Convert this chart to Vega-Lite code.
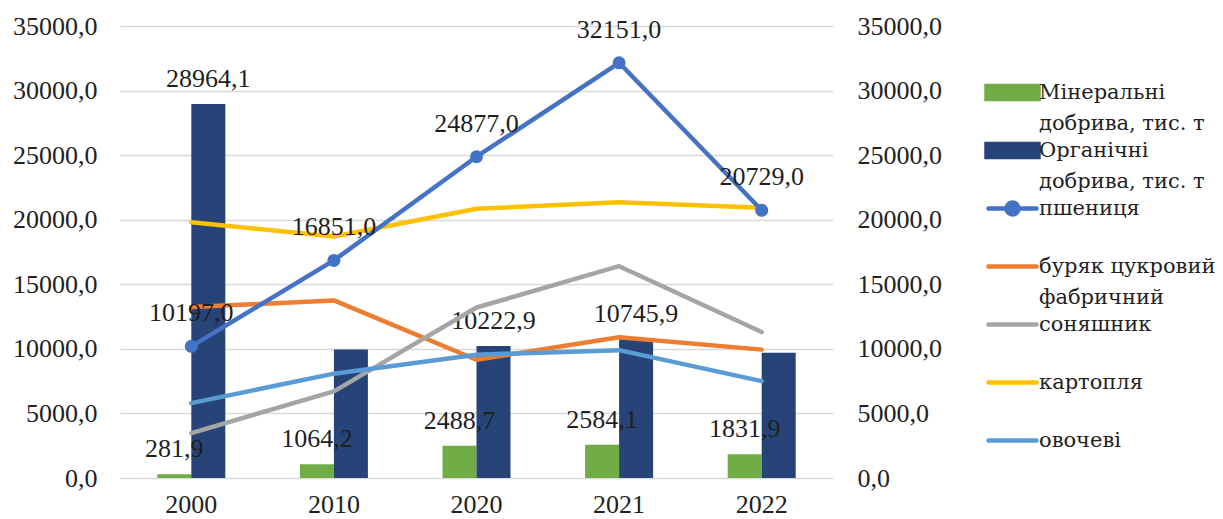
{
  "$schema": "https://vega.github.io/schema/vega-lite/v6.json",
  "width": 713,
  "height": 452,
  "autosize": {"type": "none"},
  "padding": {"left": 120, "top": 26, "right": 390, "bottom": 41},
  "background": "white",
  "config": {"view": {"stroke": null}, "font": "Liberation Serif"},
  "data": {"values": [
    {"year": "2000", "series": "Мінеральні добрива, тис. т", "value": 281.9},
    {"year": "2010", "series": "Мінеральні добрива, тис. т", "value": 1064.2},
    {"year": "2020", "series": "Мінеральні добрива, тис. т", "value": 2488.7},
    {"year": "2021", "series": "Мінеральні добрива, тис. т", "value": 2584.1},
    {"year": "2022", "series": "Мінеральні добрива, тис. т", "value": 1831.9},
    {"year": "2000", "series": "Органічні добрива, тис. т", "value": 28964.1},
    {"year": "2010", "series": "Органічні добрива, тис. т", "value": 9950},
    {"year": "2020", "series": "Органічні добрива, тис. т", "value": 10222.9},
    {"year": "2021", "series": "Органічні добрива, тис. т", "value": 10745.9},
    {"year": "2022", "series": "Органічні добрива, тис. т", "value": 9700},
    {"year": "2000", "series": "пшениця", "value": 10197},
    {"year": "2010", "series": "пшениця", "value": 16851},
    {"year": "2020", "series": "пшениця", "value": 24877},
    {"year": "2021", "series": "пшениця", "value": 32151},
    {"year": "2022", "series": "пшениця", "value": 20729},
    {"year": "2000", "series": "буряк цукровий фабричний", "value": 13235},
    {"year": "2010", "series": "буряк цукровий фабричний", "value": 13750},
    {"year": "2020", "series": "буряк цукровий фабричний", "value": 9160},
    {"year": "2021", "series": "буряк цукровий фабричний", "value": 10900},
    {"year": "2022", "series": "буряк цукровий фабричний", "value": 9940},
    {"year": "2000", "series": "соняшник", "value": 3480},
    {"year": "2010", "series": "соняшник", "value": 6710},
    {"year": "2020", "series": "соняшник", "value": 13200},
    {"year": "2021", "series": "соняшник", "value": 16400},
    {"year": "2022", "series": "соняшник", "value": 11300},
    {"year": "2000", "series": "картопля", "value": 19800},
    {"year": "2010", "series": "картопля", "value": 18700},
    {"year": "2020", "series": "картопля", "value": 20850},
    {"year": "2021", "series": "картопля", "value": 21350},
    {"year": "2022", "series": "картопля", "value": 20930},
    {"year": "2000", "series": "овочеві", "value": 5800},
    {"year": "2010", "series": "овочеві", "value": 8080},
    {"year": "2020", "series": "овочеві", "value": 9550},
    {"year": "2021", "series": "овочеві", "value": 9900},
    {"year": "2022", "series": "овочеві", "value": 7500}
  ]},
  "transform": [{"calculate": "replace(format(datum.value, '.1f'), '.', ',')", "as": "label"}],
  "encoding": {
    "x": {
      "field": "year", "type": "nominal",
      "scale": {"paddingInner": 0.523, "paddingOuter": 0.2615},
      "axis": {"title": null, "labelAngle": 0, "labelFontSize": 26, "labelFont": "Liberation Serif", "labelColor": "#222222", "domain": false, "ticks": false, "labelPadding": 13, "grid": false}
    }
  },
  "layer": [
    {
      "transform": [{"filter": {"field": "series", "oneOf": ["Мінеральні добрива, тис. т", "Органічні добрива, тис. т"]}}],
      "encoding": {
        "y": {
          "field": "value", "type": "quantitative",
          "scale": {"domain": [0, 35000], "nice": false, "zero": true},
          "axis": {"orient": "left", "title": null, "values": [0, 5000, 10000, 15000, 20000, 25000, 30000, 35000],
            "labelExpr": "replace(format(datum.value, '.1f'), '.', ',')",
            "grid": true, "gridColor": "#D9D9D9", "gridWidth": 1.3, "domain": false, "ticks": false,
            "labelFontSize": 26, "labelFont": "Liberation Serif", "labelColor": "#222222", "labelPadding": 23}
        },
        "xOffset": {"field": "series", "type": "nominal", "scale": {"domain": ["Мінеральні добрива, тис. т", "Органічні добрива, тис. т"], "paddingInner": 0, "paddingOuter": 0}}
      },
      "layer": [
        {
          "mark": {"type": "bar"},
          "encoding": {
            "color": {
              "field": "series", "type": "nominal",
              "scale": {
                "domain": ["Мінеральні добрива, тис. т", "Органічні добрива, тис. т", "пшениця", "буряк цукровий фабричний", "соняшник", "картопля", "овочеві"],
                "range": ["#70AD47", "#264478", "#4472C4", "#ED7D31", "#A5A5A5", "#FFC000", "#5B9BD5"]
              },
              "legend": {
                "orient": "none", "legendX": 861, "legendY": 56, "direction": "vertical", "columns": 1,
                "title": null, "padding": 0,
                "labelFont": "DejaVu Serif", "labelFontSize": 21, "labelColor": "#222222", "labelLimit": 400,
                "labelOffset": 37, "labelBaseline": "alphabetic", "symbolSize": 100, "gridAlign": "all", "rowPadding": 1,
                "labelExpr": "datum.label == 'Мінеральні добрива, тис. т' ? ['Мінеральні', 'добрива, тис. т'] : datum.label == 'Органічні добрива, тис. т' ? ['Органічні', 'добрива, тис. т'] : datum.label == 'буряк цукровий фабричний' ? ['буряк цукровий', 'фабричний'] : datum.label",
                "encode": {
                  "labels": {"update": {
                    "font": {"value": "DejaVu Serif"},
                    "fontSize": {"value": 21},
                    "fill": {"value": "#222222"},
                    "baseline": {"value": "alphabetic"},
                    "dy": {"value": 6},
                    "lineHeight": {"value": 31}
                  }},
                  "symbols": {"update": {
                    "shape": {"signal": "(datum.value == 'Мінеральні добрива, тис. т' || datum.value == 'Органічні добрива, тис. т') ? 'M-1,-1.3H9.4V1.3H-1Z' : datum.value == 'пшениця' ? 'M-0.6,0H9M5.4,0A1.2,1.2,0,1,1,3,0A1.2,1.2,0,1,1,5.4,0Z' : 'M-0.6,0H9'"},
                    "fill": {"signal": "(datum.value == 'Мінеральні добрива, тис. т' || datum.value == 'Органічні добрива, тис. т' || datum.value == 'пшениця') ? scale('color', datum.value) : 'transparent'"},
                    "stroke": {"signal": "(datum.value == 'Мінеральні добрива, тис. т' || datum.value == 'Органічні добрива, тис. т') ? 'transparent' : scale('color', datum.value)"},
                    "strokeWidth": {"value": 4.5},
                    "strokeCap": {"value": "round"},
                    "opacity": {"value": 1},
                    "fillOpacity": {"value": 1},
                    "strokeOpacity": {"value": 1}
                  }}
                }
              }
            }
          }
        },
        {
          "transform": [{"filter": "!(datum.series == 'Органічні добрива, тис. т' && (datum.year == '2010' || datum.year == '2022'))"}],
          "mark": {"type": "text", "dy": -17, "baseline": "alphabetic", "fontSize": 26, "font": "Liberation Serif", "color": "#1f1f1f"},
          "encoding": {"text": {"field": "label"}}
        }
      ]
    },
    {
      "transform": [{"filter": {"field": "series", "oneOf": ["пшениця", "буряк цукровий фабричний", "соняшник", "картопля", "овочеві"]}}],
      "encoding": {
        "y": {
          "field": "value", "type": "quantitative",
          "scale": {"domain": [0, 35000], "nice": false, "zero": true},
          "axis": {"orient": "right", "title": null, "values": [0, 5000, 10000, 15000, 20000, 25000, 30000, 35000],
            "labelExpr": "replace(format(datum.value, '.1f'), '.', ',')",
            "grid": false, "domain": false, "ticks": false,
            "labelFontSize": 26, "labelFont": "Liberation Serif", "labelColor": "#222222", "labelPadding": 24}
        }
      },
      "layer": [
        {
          "transform": [{"filter": "datum.series != 'пшениця'"}],
          "mark": {"type": "line", "strokeWidth": 4.5, "strokeCap": "round", "strokeJoin": "round"},
          "encoding": {"color": {"field": "series", "type": "nominal"}}
        },
        {
          "transform": [{"filter": "datum.series == 'пшениця'"}],
          "mark": {"type": "line", "strokeWidth": 4.5, "strokeCap": "round", "strokeJoin": "round"},
          "encoding": {"color": {"field": "series", "type": "nominal"}}
        },
        {
          "transform": [{"filter": "datum.series == 'пшениця'"}],
          "mark": {"type": "point", "filled": true, "size": 169, "opacity": 1, "color": "#4472C4"},
          "encoding": {}
        },
        {
          "transform": [{"filter": "datum.series == 'пшениця'"}],
          "mark": {"type": "text", "dy": -25, "baseline": "alphabetic", "fontSize": 26, "font": "Liberation Serif", "color": "#1f1f1f"},
          "encoding": {"text": {"field": "label"}}
        }
      ]
    }
  ],
  "resolve": {"scale": {"y": "independent"}}
}
